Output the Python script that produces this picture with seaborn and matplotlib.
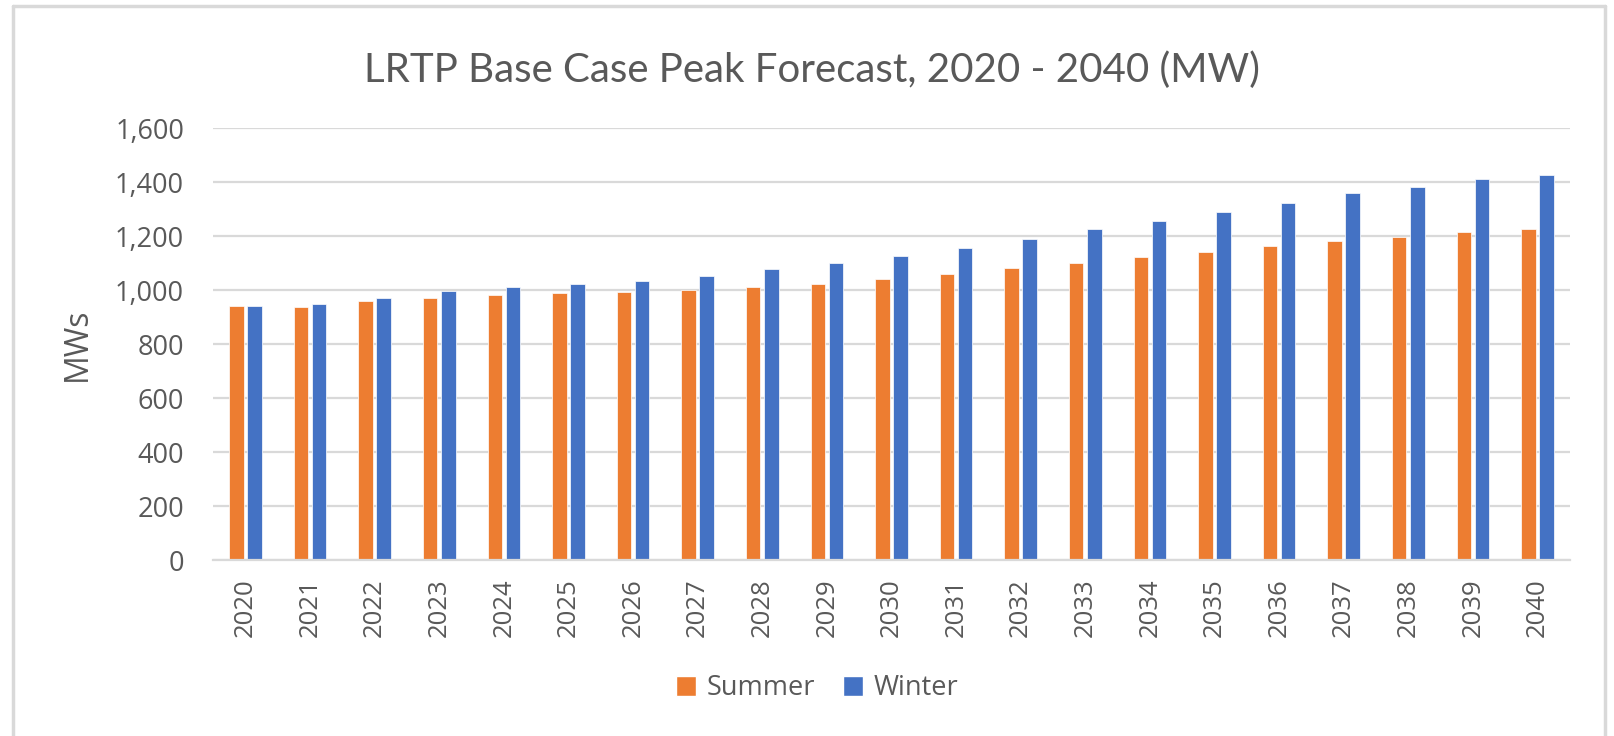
import matplotlib
matplotlib.use("Agg")
import matplotlib.pyplot as plt
import seaborn as sns
import pandas as pd
from matplotlib.lines import Line2D
from matplotlib.patches import Patch

# data
years = [str(y) for y in range(2020, 2041)]
summer = [942, 936, 959, 972, 983, 988, 994, 1000, 1011, 1023, 1041,
          1058, 1081, 1099, 1121, 1140, 1162, 1180, 1197, 1215, 1226]
winter = [942, 947, 972, 995, 1012, 1023, 1035, 1052, 1077, 1099, 1128,
          1157, 1191, 1226, 1256, 1290, 1324, 1359, 1383, 1410, 1428]
yticks = [0, 200, 400, 600, 800, 1000, 1200, 1400, 1600]

df = pd.DataFrame({
    "Year": years * 2,
    "MW": summer + winter,
    "Season": ["Summer"] * len(years) + ["Winter"] * len(years),
})

sns.set_theme(style="white")
plt.rcParams["font.family"] = ["Open Sans", "DejaVu Sans"]
grey = "#595959"
pal = {"Summer": "#ED7D31", "Winter": "#4472C4"}

fig = plt.figure(figsize=(16.15, 7.36), dpi=100)
ax = fig.add_axes([0.132, 0.239, 0.840, 0.587])

sns.barplot(data=df, x="Year", y="MW", hue="Season", palette=pal,
            saturation=1, width=0.558, gap=0.2, edgecolor="white",
            linewidth=0.5, legend=False, ax=ax)

ax.set_ylim(0, 1600)
ax.set_yticks(yticks)
ax.set_yticklabels([f"{v:,}" for v in yticks])
ax.set_xlim(-0.5, len(years) - 0.5)
ax.yaxis.grid(True, color="#D9D9D9", linewidth=1.6)
ax.set_axisbelow(True)
for s in ["top", "right", "left"]:
    ax.spines[s].set_visible(False)
ax.spines["bottom"].set_color("#D9D9D9")
ax.spines["bottom"].set_linewidth(1.6)

ax.tick_params(axis="y", length=0, pad=21, labelsize=19.5, labelcolor=grey)
ax.tick_params(axis="x", length=0, pad=13, labelsize=18.5, labelcolor=grey,
               labelrotation=90)
ax.set_xlabel("")
ax.set_ylabel("MWs", fontsize=23, color=grey)
ax.yaxis.set_label_coords(-0.088, 0.5)

fig.text(0.503, 0.905, "LRTP Base Case Peak Forecast, 2020 - 2040 (MW)",
         ha="center", va="center", fontsize=29, color=grey,
         family=["Lato", "DejaVu Sans"])

handles = [Patch(facecolor=pal["Summer"]), Patch(facecolor=pal["Winter"])]
fig.legend(handles, ["Summer", "Winter"], loc="center",
           bbox_to_anchor=(0.506, 0.065), ncol=2, frameon=False,
           fontsize=19.5, labelcolor=grey, handlelength=0.75, handleheight=0.75,
           columnspacing=1.0, handletextpad=0.4)

# chart frame
border = "#D9D9D9"
fig.add_artist(Line2D([0.008, 0.008], [0, 0.992], color=border, lw=2.5))
fig.add_artist(Line2D([0.008, 0.994], [0.992, 0.992], color=border, lw=2.5))
fig.add_artist(Line2D([0.994, 0.994], [0, 0.992], color=border, lw=2.5))

fig.savefig("out.png", dpi=100)
